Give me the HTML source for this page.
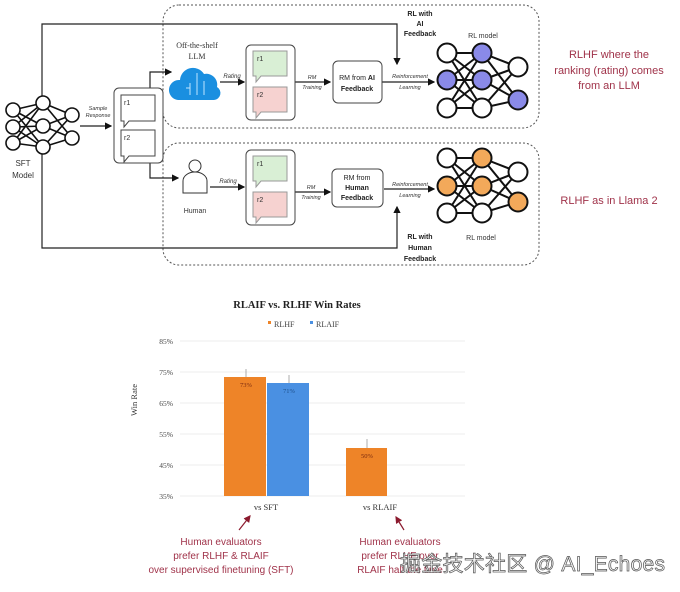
<!DOCTYPE html>
<html><head><meta charset="utf-8"><style>
html,body{margin:0;padding:0;background:#fff;}
svg{display:block;font-family:"Liberation Sans",sans-serif;}
</style></head><body>
<svg width="680" height="592" viewBox="0 0 680 592" xmlns="http://www.w3.org/2000/svg">
<defs>
<marker id="a" markerWidth="6" markerHeight="6" refX="5" refY="3" orient="auto"><path d="M0,0 L6,3 L0,6 z" fill="#111"/></marker>
<marker id="r" markerWidth="6" markerHeight="6" refX="5" refY="3" orient="auto"><path d="M0,0 L6,3 L0,6 z" fill="#8b1a2e"/></marker>
</defs>
<rect x="163" y="5" width="376" height="123" rx="16" fill="none" stroke="#555" stroke-dasharray="2,2"/>
<rect x="163" y="143" width="376" height="122" rx="16" fill="none" stroke="#555" stroke-dasharray="2,2"/>
<g fill="none" stroke="#222" stroke-width="1.2">
<path d="M42,108 V24 H397 V64" marker-end="url(#a)"/>
<path d="M42,146 V248 H397 V207" marker-end="url(#a)"/>
<path d="M80,126 H111" marker-end="url(#a)"/>
<path d="M163,95 H150 V72 H171" marker-end="url(#a)"/>
<path d="M150,150 V178 H178" marker-end="url(#a)"/>
<path d="M220,82 H244" marker-end="url(#a)"/>
<path d="M210,187 H244" marker-end="url(#a)"/>
<path d="M295,82 H330" marker-end="url(#a)"/>
<path d="M295,192 H330" marker-end="url(#a)"/>
<path d="M382,82 H434" marker-end="url(#a)"/>
<path d="M384,189 H434" marker-end="url(#a)"/>
</g>
<g stroke="#111" stroke-width="1.6" fill="#fff">
<g fill="none">
<path d="M13,110 L43,103 M13,110 L43,126 M13,110 L43,147 M13,127 L43,103 M13,127 L43,126 M13,127 L43,147 M13,143 L43,103 M13,143 L43,126 M13,143 L43,147 M43,103 L72,115 M43,103 L72,138 M43,126 L72,115 M43,126 L72,138 M43,147 L72,115 M43,147 L72,138"/>
</g>
<circle cx="13" cy="110" r="7"/><circle cx="13" cy="127" r="7"/><circle cx="13" cy="143" r="7"/>
<circle cx="43" cy="103" r="7"/><circle cx="43" cy="126" r="7"/><circle cx="43" cy="147" r="7"/>
<circle cx="72" cy="115" r="7"/><circle cx="72" cy="138" r="7"/>
</g>
<text x="23" y="166" font-size="8" text-anchor="middle" fill="#333">SFT</text>
<text x="23" y="178" font-size="8" text-anchor="middle" fill="#333">Model</text>
<text x="98" y="110" font-size="5.5" font-style="italic" text-anchor="middle" fill="#333">Sample</text>
<text x="98" y="117" font-size="5.5" font-style="italic" text-anchor="middle" fill="#333">Response</text>
<rect x="114" y="88" width="49" height="75" rx="5" fill="#fff" stroke="#444"/>
<path d="M121,95 h34 v26 h-26 l-5,6 v-6 h-3 z" fill="#fff" stroke="#444"/>
<path d="M121,130 h34 v26 h-26 l-5,6 v-6 h-3 z" fill="#fff" stroke="#444"/>
<text x="124" y="105" font-size="7" fill="#333">r1</text><text x="124" y="140" font-size="7" fill="#333">r2</text>
<text x="197" y="48" font-size="8" font-family="Liberation Serif,serif" text-anchor="middle" fill="#333">Off-the-shelf</text>
<text x="197" y="59" font-size="8" font-family="Liberation Serif,serif" text-anchor="middle" fill="#333">LLM</text>
<path d="M178,100 a10,10 0 0 1 2,-20 a13,13 0 0 1 24,-6 a11,11 0 0 1 13,13 a7,7 0 0 1 -3,13 z" fill="#1a8fe0"/>
<path d="M190,95 v-12 M197,95 v-22 M204,95 v-14 M186,88 h4" stroke="#bfe4ff" stroke-width="1" fill="none"/>
<text x="232" y="78" font-size="6" font-style="italic" text-anchor="middle" fill="#333">Rating</text>
<circle cx="195" cy="166" r="6" fill="#fff" stroke="#333"/>
<path d="M183,193 v-12 a12,9 0 0 1 24,0 v12 z" fill="#fff" stroke="#333"/>
<text x="195" y="213" font-size="7" text-anchor="middle" fill="#333">Human</text>
<text x="228" y="183" font-size="6" font-style="italic" text-anchor="middle" fill="#333">Rating</text>
<g>
<rect x="246" y="45" width="49" height="75" rx="5" fill="#fff" stroke="#444"/>
<path d="M253,51 h34 v25 h-26 l-5,6 v-6 h-3 z" fill="#d9efd5" stroke="#999"/>
<path d="M253,87 h34 v25 h-26 l-5,6 v-6 h-3 z" fill="#f6d2d0" stroke="#999"/>
<text x="257" y="61" font-size="7" fill="#333">r1</text><text x="257" y="97" font-size="7" fill="#333">r2</text>
<rect x="246" y="150" width="49" height="75" rx="5" fill="#fff" stroke="#444"/>
<path d="M253,156 h34 v25 h-26 l-5,6 v-6 h-3 z" fill="#d9efd5" stroke="#999"/>
<path d="M253,192 h34 v25 h-26 l-5,6 v-6 h-3 z" fill="#f6d2d0" stroke="#999"/>
<text x="257" y="166" font-size="7" fill="#333">r1</text><text x="257" y="202" font-size="7" fill="#333">r2</text>
</g>
<g font-size="5.5" font-style="italic" text-anchor="middle" fill="#333">
<text x="312" y="79">RM</text><text x="312" y="89">Training</text>
<text x="311" y="189">RM</text><text x="311" y="199">Training</text>
<text x="410" y="78">Reinforcement</text><text x="410" y="89">Learning</text>
<text x="410" y="186">Reinforcement</text><text x="410" y="197">Learning</text>
</g>
<rect x="333" y="61" width="49" height="42" rx="5" fill="#fff" stroke="#444"/>
<text x="357" y="80" font-size="7" text-anchor="middle" fill="#222">RM from <tspan font-weight="bold">AI</tspan></text>
<text x="357" y="91" font-size="7" font-weight="bold" text-anchor="middle" fill="#222">Feedback</text>
<rect x="332" y="169" width="51" height="38" rx="5" fill="#fff" stroke="#444"/>
<text x="357" y="180" font-size="7" text-anchor="middle" fill="#222">RM from</text>
<text x="357" y="190" font-size="7" font-weight="bold" text-anchor="middle" fill="#222">Human</text>
<text x="357" y="200" font-size="7" font-weight="bold" text-anchor="middle" fill="#222">Feedback</text>
<g font-size="7" font-weight="bold" text-anchor="middle" fill="#222">
<text x="420" y="16">RL with</text><text x="420" y="26">AI</text><text x="420" y="36">Feedback</text>
<text x="420" y="239">RL with</text><text x="420" y="250">Human</text><text x="420" y="261">Feedback</text>
</g>
<text x="483" y="38" font-size="7" text-anchor="middle" fill="#333">RL model</text>
<text x="481" y="240" font-size="7" text-anchor="middle" fill="#333">RL model</text>
<g stroke="#111" stroke-width="2" fill="#fff">
<path fill="none" d="M447,53 L482,53 M447,53 L482,80 M447,53 L482,108 M447,80 L482,53 M447,80 L482,80 M447,80 L482,108 M447,108 L482,53 M447,108 L482,80 M447,108 L482,108 M482,53 L518,67 M482,53 L518,100 M482,80 L518,67 M482,80 L518,100 M482,108 L518,67 M482,108 L518,100"/>
<circle cx="447" cy="53" r="9.5"/><circle cx="447" cy="80" r="9.5" fill="#8a8ae8"/><circle cx="447" cy="108" r="9.5"/>
<circle cx="482" cy="53" r="9.5" fill="#8a8ae8"/><circle cx="482" cy="80" r="9.5" fill="#8a8ae8"/><circle cx="482" cy="108" r="9.5"/>
<circle cx="518" cy="67" r="9.5"/><circle cx="518" cy="100" r="9.5" fill="#8a8ae8"/>
<path fill="none" d="M447,158 L482,158 M447,158 L482,186 M447,158 L482,213 M447,186 L482,158 M447,186 L482,186 M447,186 L482,213 M447,213 L482,158 M447,213 L482,186 M447,213 L482,213 M482,158 L518,172 M482,158 L518,202 M482,186 L518,172 M482,186 L518,202 M482,213 L518,172 M482,213 L518,202"/>
<circle cx="447" cy="158" r="9.5"/><circle cx="447" cy="186" r="9.5" fill="#f3a95a"/><circle cx="447" cy="213" r="9.5"/>
<circle cx="482" cy="158" r="9.5" fill="#f3a95a"/><circle cx="482" cy="186" r="9.5" fill="#f3a95a"/><circle cx="482" cy="213" r="9.5"/>
<circle cx="518" cy="172" r="9.5"/><circle cx="518" cy="202" r="9.5" fill="#f3a95a"/>
</g>
<g font-size="11" text-anchor="middle" fill="#a0334a">
<text x="609" y="58">RLHF where the</text><text x="609" y="74">ranking (rating) comes</text><text x="609" y="89">from an LLM</text>
<text x="609" y="204">RLHF as in Llama 2</text>
</g>
<g font-family="Liberation Serif,serif">
<text x="297" y="308" font-size="10.5" font-weight="bold" text-anchor="middle" fill="#222">RLAIF vs. RLHF Win Rates</text>
<rect x="268" y="321" width="3" height="3" fill="#ee8428"/><text x="274" y="327" font-size="8" fill="#444">RLHF</text>
<rect x="310" y="321" width="3" height="3" fill="#4a90e2"/><text x="316" y="327" font-size="8" fill="#444">RLAIF</text>
<g stroke="#e6e6e6" stroke-width="0.8">
<line x1="180" y1="341" x2="465" y2="341"/><line x1="180" y1="372" x2="465" y2="372"/><line x1="180" y1="403" x2="465" y2="403"/>
<line x1="180" y1="434" x2="465" y2="434"/><line x1="180" y1="465" x2="465" y2="465"/><line x1="180" y1="496" x2="465" y2="496"/>
</g>
<g font-size="7.5" text-anchor="end" fill="#444">
<text x="173" y="344">85%</text><text x="173" y="375">75%</text><text x="173" y="406">65%</text><text x="173" y="437">55%</text><text x="173" y="468">45%</text><text x="173" y="499">35%</text>
</g>
<text transform="translate(137,400) rotate(-90)" font-size="8.5" text-anchor="middle" fill="#333">Win Rate</text>
<rect x="224" y="377" width="42" height="119" fill="#ee8428"/>
<rect x="267" y="383" width="42" height="113" fill="#4a90e2"/>
<rect x="346" y="448" width="41" height="48" fill="#ee8428"/>
<g stroke="#999" stroke-width="0.8"><line x1="246" y1="369" x2="246" y2="377"/><line x1="289" y1="375" x2="289" y2="383"/><line x1="367" y1="439" x2="367" y2="448"/></g>
<g font-size="6.5" text-anchor="middle"><text x="246" y="387" fill="#7a2a10">73%</text><text x="289" y="393" fill="#1e4f8a">71%</text><text x="367" y="458" fill="#7a2a10">50%</text></g>
<text x="266" y="510" font-size="8.5" text-anchor="middle" fill="#333">vs SFT</text>
<text x="380" y="510" font-size="8.5" text-anchor="middle" fill="#333">vs RLAIF</text>
</g>
<line x1="239" y1="530" x2="250" y2="516" stroke="#8b1a2e" stroke-width="1.2" marker-end="url(#r)"/>
<line x1="404" y1="530" x2="396" y2="517" stroke="#8b1a2e" stroke-width="1.2" marker-end="url(#r)"/>
<g font-size="10" text-anchor="middle" fill="#a0334a">
<text x="221" y="545">Human evaluators</text><text x="221" y="559">prefer RLHF &amp; RLAIF</text><text x="221" y="573">over supervised finetuning (SFT)</text>
<text x="400" y="545">Human evaluators</text><text x="400" y="559">prefer RLHF over</text><text x="400" y="573">RLAIF half the time</text>
</g>
<text x="400" y="571" font-size="21" textLength="265" font-family="Liberation Sans,'Noto Sans CJK SC',sans-serif" fill="#f6f6f6" stroke="#555" stroke-width="0.7">掘金技术社区 @ AI_Echoes</text>
</svg>
</body></html>
